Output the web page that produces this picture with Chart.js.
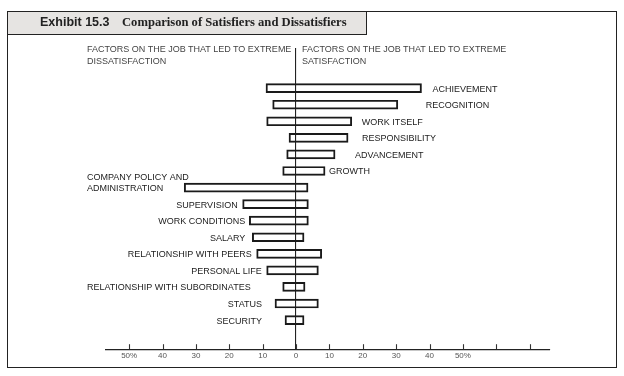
<!DOCTYPE html>
<html>
<head>
<meta charset="utf-8">
<script src="https://cdn.jsdelivr.net/npm/chart.js@4/dist/chart.umd.min.js"></script>
<style>
  html, body { margin: 0; padding: 0; background: #fff; }
  #wrap { position: relative; width: 624px; height: 376px; overflow: hidden; }
  #c { position: absolute; left: 0; top: 0; }
  .frame { position: absolute; left: 7px; top: 11px; width: 608px; height: 355px; border: 1.6px solid #222; }
  .titlebox { position: absolute; left: 7px; top: 11px; width: 358px; height: 22px; border: 1.6px solid #222; background: #e6e4e2; }
  .t1 { position: absolute; left: 40px; top: 15px; font: bold 12.5px "Liberation Sans", Arial, sans-serif; color: #222; white-space: nowrap; }
  .t2 { position: absolute; left: 122px; top: 15px; font: bold 12.6px "Liberation Serif", "Times New Roman", serif; color: #222; white-space: nowrap; }
  .hdr { position: absolute; font: 9px "Liberation Sans", Arial, sans-serif; color: #444; line-height: 11.5px; white-space: nowrap; }
</style>
</head>
<body>
<div id="wrap">
  <canvas id="c" width="624" height="376"></canvas>
  <div class="frame"></div>
  <div class="titlebox"></div>
  <div class="t1">Exhibit 15.3</div>
  <div class="t2">Comparison of Satisfiers and Dissatisfiers</div>
  <div class="hdr" style="left:87px; top:44px;">FACTORS ON THE JOB THAT LED TO EXTREME<br>DISSATISFACTION</div>
  <div class="hdr" style="left:302px; top:44px;">FACTORS ON THE JOB THAT LED TO EXTREME<br>SATISFACTION</div>
</div>
<script>
// ---- data (percent of reports) ----
const categories = [
  "ACHIEVEMENT", "RECOGNITION", "WORK ITSELF", "RESPONSIBILITY", "ADVANCEMENT", "GROWTH",
  "COMPANY POLICY AND|ADMINISTRATION", "SUPERVISION", "WORK CONDITIONS", "SALARY",
  "RELATIONSHIP WITH PEERS", "PERSONAL LIFE", "RELATIONSHIP WITH SUBORDINATES", "STATUS", "SECURITY"
];
const dissatisfaction = [9, 7, 8.8, 2.1, 2.8, 4, 33.5, 16, 14, 13.1, 11.8, 8.8, 4, 6.3, 3.3];
const satisfaction   = [37.6, 30.5, 16.7, 15.6, 11.7, 8.7, 3.6, 3.7, 3.7, 2.4, 7.7, 6.7, 2.7, 6.7, 2.4];
const tickValues = [-50, -40, -30, -20, -10, 0, 10, 20, 30, 40, 50, 60, 70];
const tickLabelFor = v => (Math.abs(v) === 50 ? "50%" : Math.abs(v) <= 50 ? String(Math.abs(v)) : "");

// ---- label layout (px gaps from bar ends; 'margin' = flush at left margin) ----
const labelLayout = [
  {side: "r", gap: 11}, {side: "r", gap: 28}, {side: "r", gap: 10}, {side: "r", gap: 14},
  {side: "r", gap: 20}, {side: "r", gap: 4},
  {side: "margin"}, {side: "l", gap: 5}, {side: "l", gap: 4}, {side: "l", gap: 7},
  {side: "l", gap: 5}, {side: "l", gap: 5}, {side: "margin"}, {side: "l", gap: 13}, {side: "l", gap: 23}
];

const labelPlugin = {
  id: "labels",
  afterDraw(chart) {
    const ctx = chart.ctx, xs = chart.scales.x, ys = chart.scales.y, area = chart.chartArea;
    ctx.save();
    ctx.strokeStyle = "#333"; ctx.lineWidth = 1.1;
    tickValues.forEach(v => {
      const px = Math.round(xs.getPixelForValue(v)) + 0.5;
      ctx.beginPath(); ctx.moveTo(px, area.bottom); ctx.lineTo(px, area.bottom - 5); ctx.stroke();
    });
    ctx.font = '9px "Liberation Sans", Arial, sans-serif';
    ctx.fillStyle = "#1c1c1c";
    ctx.textBaseline = "middle";
    categories.forEach((cat, i) => {
      const lay = labelLayout[i];
      const y = ys.getPixelForValue(i) + 1;
      const lines = cat.split("|");
      if (lay.side === "r") {
        ctx.textAlign = "left";
        ctx.fillText(lines[0], xs.getPixelForValue(satisfaction[i]) + lay.gap, y);
      } else if (lay.side === "l") {
        ctx.textAlign = "right";
        ctx.fillText(lines[0], xs.getPixelForValue(-dissatisfaction[i]) - lay.gap, y);
      } else {
        ctx.textAlign = "left";
        const x0 = area.left - 19;
        lines.forEach((ln, k) => ctx.fillText(ln, x0, y - (lines.length - 1 - k) * 11));
      }
    });
    ctx.restore();
  }
};

new Chart(document.getElementById("c"), {
  type: "bar",
  data: {
    datasets: [{
      data: categories.map((c, i) => ({ x: [-dissatisfaction[i], satisfaction[i]], y: i })),
      backgroundColor: "rgba(255,255,255,0)",
      borderColor: "#1a1a1a",
      borderWidth: 1.3,
      borderSkipped: false,
      barThickness: 9
    }]
  },
  options: {
    indexAxis: "y",
    responsive: false,
    animation: false,
    layout: { padding: { left: 106, right: 74, top: 48, bottom: 13.2 } },
    plugins: { legend: { display: false }, tooltip: { enabled: false } },
    scales: {
      x: {
        type: "linear",
        min: -56.94, max: 76.1,
        afterBuildTicks: s => { s.ticks = tickValues.map(v => ({ value: v })); },
        ticks: {
          autoSkip: false, maxRotation: 0, padding: 2,
          color: "#555",
          font: { family: '"Liberation Sans", Arial, sans-serif', size: 8 },
          callback: v => tickLabelFor(v)
        },
        grid: {
          drawTicks: false,
          color: c => (c.tick && c.tick.value === 0 ? "#222" : "rgba(0,0,0,0)"),
          lineWidth: 1.1
        },
        border: { display: true, color: "#222", width: 1.3 }
      },
      y: {
        type: "linear",
        reverse: true,
        offset: false,
        grid: { offset: false },
        min: -2.424, max: 15.758,
        display: false
      }
    }
  },
  plugins: [labelPlugin]
});
</script>
</body>
</html>
